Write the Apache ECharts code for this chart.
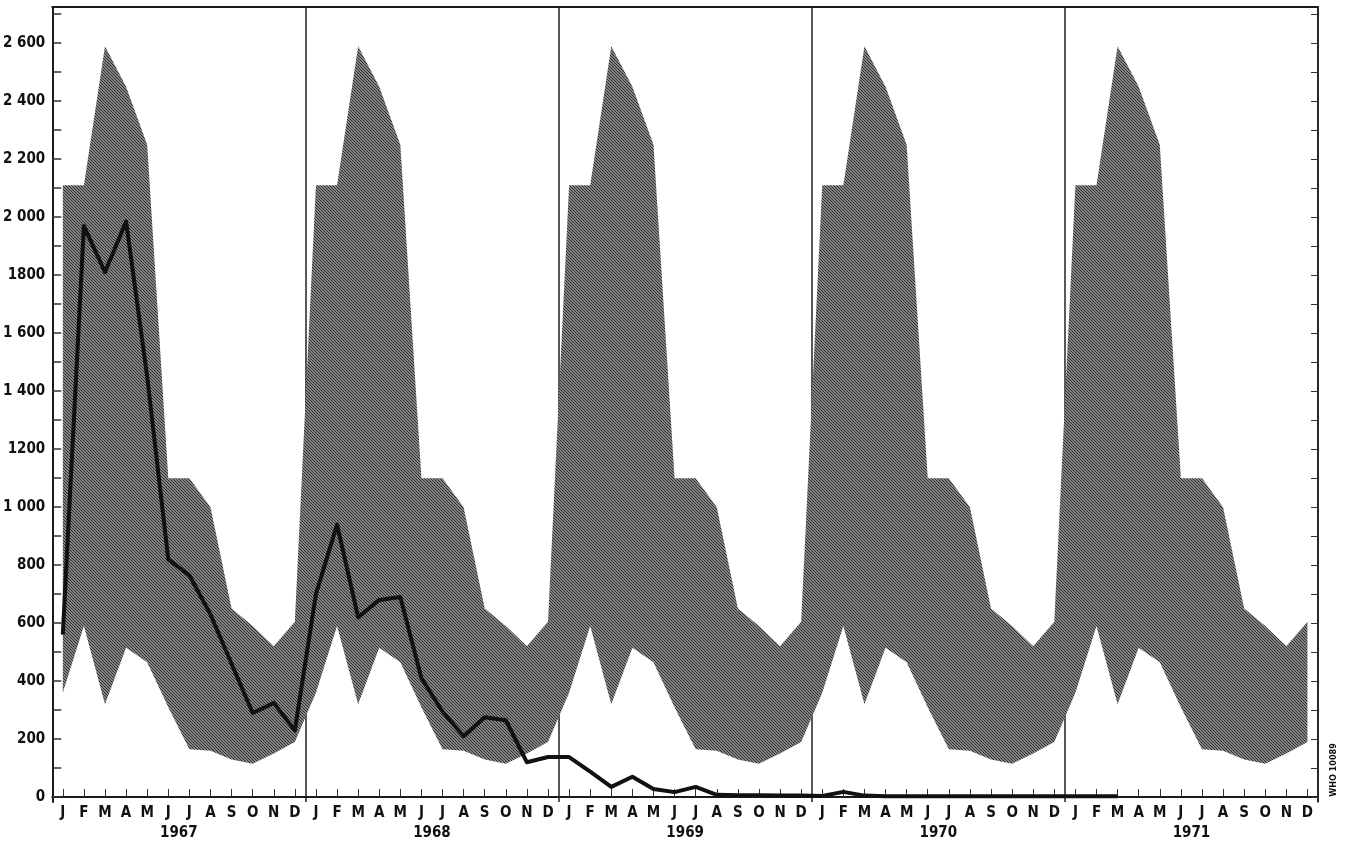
<!DOCTYPE html>
<html>
<head>
<meta charset="utf-8">
<script src="https://cdn.jsdelivr.net/npm/echarts@6/dist/echarts.min.js"></script>
<style>
  html, body { margin: 0; padding: 0; background: #fff; }
  #chart { width: 1345px; height: 841px; }
</style>
</head>
<body>
<div id="chart"></div>
<script>
// ---- data ----
const years = ['1967', '1968', '1969', '1970', '1971'];
const monthLetters = ['J', 'F', 'M', 'A', 'M', 'J', 'J', 'A', 'S', 'O', 'N', 'D'];

// expected seasonal channel (same every year), per month
const channelUpper = [2110, 2110, 2590, 2450, 2250, 1100, 1100, 1000, 650, 590, 520, 605];
const channelLower = [360, 590, 320, 515, 465, 310, 165, 160, 130, 115, 150, 190];

// observed monthly cases
const cases1967 = [560, 1970, 1810, 1985, 1450, 820, 765, 630, 460, 290, 325, 230];
const cases1968 = [700, 940, 620, 680, 690, 410, 295, 210, 275, 265, 120, 138];
const cases1969 = [138, 88, 35, 70, 28, 17, 35, 8, 6, 6, 5, 5];
const cases1970 = [4, 18, 5, 3, 3, 3, 3, 3, 3, 3, 3, 3];
const cases1971 = [3, 3, 3, null, null, null, null, null, null, null, null, null];

const yLabelValues = [0, 200, 400, 600, 800, 1000, 1200, 1400, 1600, 1800, 2000, 2200, 2400, 2600];
const yLabelTexts = ['0', '200', '400', '600', '800', '1 000', '1200', '1 400', '1 600', '1800', '2 000', '2 200', '2 400', '2 600'];
const yTickValues = [0, 100, 200, 300, 400, 500, 600, 700, 800, 900, 1000, 1100, 1200, 1300, 1400,
  1500, 1600, 1700, 1800, 1900, 2000, 2100, 2200, 2300, 2400, 2500, 2600, 2700];

// ---- build tables ----
const categories = [];
const lowerData = [];
const spanData = [];
years.forEach(function (y) {
  monthLetters.forEach(function (m, i) {
    categories.push(y + '-' + (i + 1));
    lowerData.push(channelLower[i]);
    spanData.push(channelUpper[i] - channelLower[i]);
  });
});
const caseData = [].concat(cases1967, cases1968, cases1969, cases1970, cases1971);

// hatched texture for the channel
const tile = document.createElement('canvas');
tile.width = 3; tile.height = 3;
const tctx = tile.getContext('2d');
tctx.fillStyle = '#858585';
tctx.fillRect(0, 0, 3, 3);
tctx.fillStyle = '#2e2e2e';
for (let i = 0; i < 3; i++) tctx.fillRect(i, i, 1, 1);

const FONT = "'Liberation Sans Narrow', 'DejaVu Sans Condensed', 'Arial Narrow', sans-serif";

const chart = echarts.init(document.getElementById('chart'), null, { renderer: 'canvas' });
chart.setOption({
  animation: false,
  backgroundColor: '#ffffff',
  grid: { left: 52, right: 27, top: 7, bottom: 38, containLabel: false },
  xAxis: [
    {
      type: 'category',
      data: categories,
      boundaryGap: true,
      position: 'bottom',
      axisLine: { show: true, lineStyle: { color: '#1a1a1a', width: 2 } },
      axisTick: { show: true, inside: true, alignWithLabel: true, interval: 0, length: 8,
        lineStyle: { color: '#333', width: 1 } },
      axisLabel: {
        interval: 0, margin: 4,
        formatter: function (v) { return monthLetters[parseInt(v.split('-')[1], 10) - 1]; },
        color: '#111', fontFamily: FONT, fontWeight: 'bold', fontSize: 15
      },
      splitLine: {
        show: true,
        interval: function (index) { return index > 0 && index < 60 && index % 12 === 0; },
        lineStyle: { color: '#222', width: 1.5 }
      }
    },
    {
      type: 'category',
      data: years,
      boundaryGap: true,
      position: 'bottom',
      offset: 20,
      axisLine: { show: false },
      axisTick: { show: false },
      axisLabel: { interval: 0, color: '#111', fontFamily: FONT, fontWeight: 'bold', fontSize: 15, margin: 4 },
      splitLine: { show: false }
    },
    {
      type: 'category',
      data: years,
      position: 'top',
      axisLine: { show: true, lineStyle: { color: '#1a1a1a', width: 2 } },
      axisTick: { show: false },
      axisLabel: { show: false },
      splitLine: { show: false }
    }
  ],
  yAxis: [
    {
      type: 'value',
      min: -17,
      max: 2725,
      position: 'left',
      axisLine: { show: true, lineStyle: { color: '#1a1a1a', width: 2 } },
      axisTick: { show: true, inside: true, length: 9, customValues: yTickValues,
        lineStyle: { color: '#333', width: 1.5 } },
      axisLabel: {
        customValues: yLabelValues,
        formatter: function (v) { return yLabelTexts[yLabelValues.indexOf(v)]; },
        color: '#111', fontFamily: FONT, fontWeight: 'bold', fontSize: 15, margin: 7
      },
      splitLine: { show: false }
    },
    {
      type: 'value',
      min: -17,
      max: 2725,
      position: 'right',
      axisLine: { show: true, lineStyle: { color: '#1a1a1a', width: 1.5 } },
      axisTick: { show: true, inside: true, length: 7, customValues: yTickValues,
        lineStyle: { color: '#333', width: 1 } },
      axisLabel: { show: false },
      splitLine: { show: false }
    }
  ],
  graphic: [
    {
      type: 'text',
      x: 1334, y: 770,
      rotation: Math.PI / 2,
      style: { text: 'WHO 10089', fill: '#111', font: 'bold 9px ' + FONT,
        textAlign: 'center', textVerticalAlign: 'middle' }
    }
  ],
  series: [
    {
      name: 'channel-lower', type: 'line', stack: 'channel',
      data: lowerData, symbol: 'none', silent: true,
      lineStyle: { width: 0, opacity: 0 }, areaStyle: { opacity: 0 }
    },
    {
      name: 'channel', type: 'line', stack: 'channel',
      data: spanData, symbol: 'none', silent: true,
      lineStyle: { width: 0, opacity: 0 },
      areaStyle: { color: { image: tile, repeat: 'repeat' }, opacity: 1 }
    },
    {
      name: 'cases', type: 'line',
      data: caseData, symbol: 'none', connectNulls: false,
      lineStyle: { color: '#111', width: 4, join: 'round' }, z: 5
    }
  ]
});
</script>
</body>
</html>
